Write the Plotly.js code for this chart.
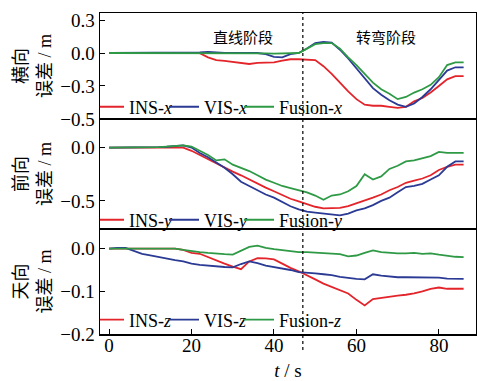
<!DOCTYPE html>
<html>
<head>
<meta charset="utf-8">
<script src="https://cdn.plot.ly/plotly-3.0.1.min.js"></script>
<style>html,body{margin:0;padding:0;background:#fff;}#chart{width:477px;height:381px;}</style>
</head>
<body>
<div id="chart"></div>
<script>
// time (s)
var t = [0,2,4,6,8,10,12,14,16,18,20,22,24,26,28,30,32,34,36,38,40,42,44,46,48,50,52,54,56,58,60,62,64,66,68,70,72,74,76,78,80,82,84,86];

// lateral error (m)
var insX = [0,0,0,0,0,0,0,0,0,0,0,-0.002,-0.04,-0.065,-0.072,-0.08,-0.09,-0.1,-0.09,-0.085,-0.085,-0.07,-0.057,-0.057,-0.058,-0.065,-0.12,-0.19,-0.27,-0.35,-0.42,-0.47,-0.48,-0.48,-0.49,-0.5,-0.49,-0.44,-0.41,-0.36,-0.3,-0.24,-0.21,-0.21];
var visX = [0,0,0,0,0,0,0,0,0,0,0,0.005,0.01,0.003,0,0,0,0,0,-0.01,-0.035,-0.04,-0.01,0,0.04,0.09,0.1,0.095,0.03,-0.05,-0.14,-0.24,-0.32,-0.38,-0.43,-0.47,-0.49,-0.46,-0.4,-0.33,-0.25,-0.16,-0.13,-0.13];
var fusX = [0,0,0,0,0,0,0,0,0,0,0,0.002,0.003,0,0,0,0,0,0,-0.003,-0.005,-0.005,-0.003,0,0.04,0.08,0.09,0.09,0.04,-0.04,-0.11,-0.19,-0.27,-0.33,-0.37,-0.42,-0.4,-0.36,-0.33,-0.29,-0.22,-0.11,-0.085,-0.085];

// forward error (m)
var insY = [0,0,0,0,0,0,0,0,0,0,-0.03,-0.07,-0.11,-0.15,-0.19,-0.225,-0.26,-0.3,-0.34,-0.375,-0.41,-0.445,-0.48,-0.505,-0.53,-0.555,-0.57,-0.57,-0.565,-0.55,-0.525,-0.5,-0.47,-0.44,-0.4,-0.37,-0.33,-0.31,-0.29,-0.26,-0.21,-0.18,-0.16,-0.16];
var visY = [0,0,0,0,0,0,0.005,0.008,0.012,0.02,0,-0.05,-0.09,-0.14,-0.19,-0.25,-0.32,-0.36,-0.4,-0.44,-0.47,-0.51,-0.55,-0.58,-0.6,-0.61,-0.62,-0.63,-0.635,-0.62,-0.59,-0.57,-0.54,-0.5,-0.47,-0.42,-0.37,-0.36,-0.34,-0.3,-0.26,-0.18,-0.13,-0.13];
var fusY = [0,0,0,0,0,0,0.005,0.01,0.015,0.02,0.01,-0.03,-0.07,-0.12,-0.11,-0.16,-0.19,-0.22,-0.26,-0.3,-0.33,-0.36,-0.38,-0.4,-0.42,-0.45,-0.49,-0.45,-0.44,-0.41,-0.36,-0.25,-0.3,-0.27,-0.2,-0.17,-0.13,-0.12,-0.1,-0.08,-0.04,-0.05,-0.05,-0.05];

// vertical error (m)
var insZ = [0,0,0,0,0,0,0,0,0,-0.003,-0.01,-0.012,-0.02,-0.027,-0.035,-0.042,-0.048,-0.03,-0.022,-0.023,-0.025,-0.035,-0.045,-0.053,-0.062,-0.072,-0.082,-0.09,-0.098,-0.105,-0.12,-0.133,-0.118,-0.115,-0.113,-0.11,-0.108,-0.105,-0.1,-0.094,-0.091,-0.094,-0.094,-0.094];
var visZ = [0,0.002,0.002,-0.005,-0.012,-0.016,-0.02,-0.024,-0.027,-0.03,-0.035,-0.038,-0.04,-0.041,-0.043,-0.044,-0.036,-0.03,-0.034,-0.04,-0.043,-0.047,-0.05,-0.055,-0.056,-0.058,-0.06,-0.062,-0.066,-0.069,-0.071,-0.072,-0.06,-0.063,-0.065,-0.067,-0.067,-0.067,-0.068,-0.067,-0.068,-0.07,-0.07,-0.071];
var fusZ = [0,0,0,0,0,0,0,0,0,-0.003,-0.006,-0.008,-0.01,-0.012,-0.013,-0.014,-0.005,0.004,0.007,0.002,-0.001,-0.003,-0.006,-0.008,-0.008,-0.009,-0.01,-0.011,-0.013,-0.018,-0.016,-0.01,-0.004,-0.008,-0.01,-0.011,-0.011,-0.01,-0.012,-0.011,-0.014,-0.017,-0.019,-0.02];

var names = [['INS-<i>x</i>','VIS-<i>x</i>','Fusion-<i>x</i>'],['INS-<i>y</i>','VIS-<i>y</i>','Fusion-<i>y</i>'],['INS-<i>z</i>','VIS-<i>z</i>','Fusion-<i>z</i>']];
var phaseSplit = 47;
var phaseLabels = ['直线阶段','转弯阶段'];
var phaseLabelT = [32.5, 67.2];

var colors = ['#e3242b','#2b3a94','#2f9a45'];
var entryW = [41, 41, 80];
var series = [[insX,visX,fusX],[insY,visY,fusY],[insZ,visZ,fusZ]];
var yaxes = ['y','y2','y3'];
var xaxes = ['x3','x2','x'];
var legends = ['legend','legend2','legend3'];
var traces = [];
for (var p=0;p<3;p++){
  for (var s=0;s<3;s++){
    traces.push({x:t, y:series[p][s], type:'scatter', mode:'lines', name:names[p][s],
      xaxis:xaxes[p], yaxis:yaxes[p], legend:legends[p], legendwidth:entryW[s],
      line:{color:colors[s], width:1.8}});
  }
}

var FONT = 'Times New Roman, Liberation Serif, Noto Sans CJK SC, serif';
var axBase = {showline:true, mirror:true, linecolor:'#000', linewidth:1.5, showgrid:false, zeroline:false,
  ticks:'inside', ticklen:5, tickcolor:'#000', tickfont:{size:19, family:FONT}};
function clone(o, extra){ var r = JSON.parse(JSON.stringify(o)); for (var k in extra) r[k]=extra[k]; return r; }

var legBase = {orientation:'h', xanchor:'left', yanchor:'middle', x:0, indentation:-11, bgcolor:'rgba(0,0,0,0)',
  font:{size:18, family:FONT}, itemwidth:30, tracegroupgap:0};

var layout = {
  width:477, height:381,
  margin:{l:100, r:1, t:13, b:47},
  paper_bgcolor:'#fff', plot_bgcolor:'#fff',
  font:{family:FONT, size:18, color:'#000'},
  xaxis: clone(axBase, {anchor:'y3', range:[-2.2,89], tickvals:[0,20,40,60,80], ticklabelstandoff:-6,
    title:{text:'<i>t</i> / s', font:{size:19, family:FONT}, standoff:20}}),
  xaxis2: clone(axBase, {anchor:'y2', matches:'x', showticklabels:false, ticks:''}),
  xaxis3: clone(axBase, {anchor:'y', matches:'x', showticklabels:false, ticks:''}),
  yaxis: clone(axBase, {anchor:'x3', domain:[0.670,1], range:[-0.6,0.364], tickvals:[0.3,0,-0.3,-0.6], ticktext:['0.3','0.0','−0.3','−0.5'],
    title:{text:'横向<br>误差 / m', font:{size:18, family:FONT}, standoff:4}}),
  yaxis2: clone(axBase, {anchor:'x2', domain:[0.330,0.667], range:[-0.755,0.26], tickvals:[0,-0.5], ticktext:['0.0','−0.5'],
    title:{text:'前向<br>误差 / m', font:{size:18, family:FONT}, standoff:4}}),
  yaxis3: clone(axBase, {anchor:'x', domain:[0,0.327], range:[-0.2,0.046], tickvals:[0,-0.1,-0.2], ticktext:['0.0','−0.1','−0.2'],
    title:{text:'天向<br>误差 / m', font:{size:18, family:FONT}, standoff:4}}),
  legend: clone(legBase, {y:0.707}),
  legend2: clone(legBase, {y:0.355}),
  legend3: clone(legBase, {y:0.044}),
  shapes:[{type:'line', xref:'x', yref:'paper', x0:phaseSplit, x1:phaseSplit, y0:-0.05, y1:1,
    line:{color:'#000', width:1.2, dash:'dot'}}],
  annotations:[
    {xref:'x', yref:'paper', x:phaseLabelT[0], y:0.953, text:phaseLabels[0], showarrow:false, font:{size:15, family:FONT}},
    {xref:'x', yref:'paper', x:phaseLabelT[1], y:0.953, text:phaseLabels[1], showarrow:false, font:{size:15, family:FONT}}
  ],
  showlegend:true
};
Plotly.newPlot('chart', traces, layout, {staticPlot:true, displayModeBar:false});
</script>
</body>
</html>
